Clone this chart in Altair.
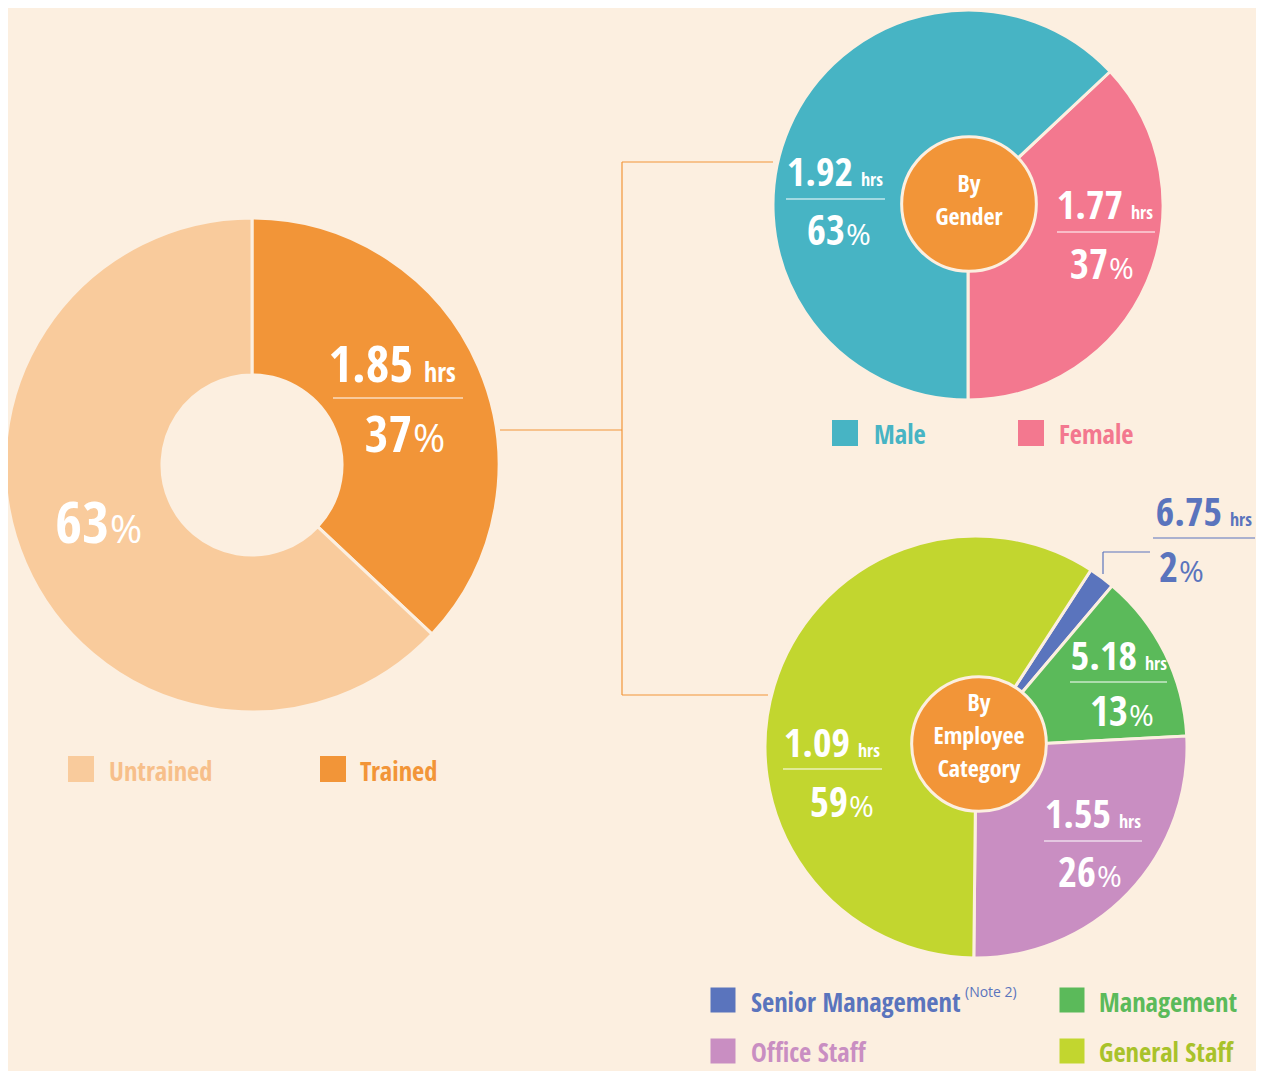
import math
import altair as alt
import pandas as pd

# ---------------- data ----------------
overall_cats = ["Trained", "Untrained"]
overall_pct = [37, 63]
overall_hours = [1.85, None]

gender_cats = ["Female", "Male"]
gender_pct = [37, 63]
gender_hours = [1.77, 1.92]

emp_cats = ["Senior Management", "Management", "Office Staff", "General Staff"]
emp_pct = [2, 13, 26, 59]
emp_hours = [6.75, 5.18, 1.55, 1.09]

gender_title = ["By", "Gender"]
emp_title = ["By", "Employee", "Category"]
note_text = "(Note 2)"
hrs_unit = "hrs"

# ---------------- styles ----------------
BG = "#fcefe0"
ORANGE = "#f29538"
FONT = "Open Sans Condensed, Roboto Condensed, DejaVu Sans Condensed, sans-serif"
FONT_REG = "Open Sans, Roboto, DejaVu Sans, sans-serif"
OFF = 8


def px(v):
    return v - OFF


slice_colors = {
    "Trained": ORANGE, "Untrained": "#f9cb9c",
    "Female": "#f3788f", "Male": "#47b4c4",
    "Senior Management": "#5a74bd", "Management": "#5bba5a",
    "Office Staff": "#c98ec2", "General Staff": "#c2d62f",
}
legend_text_colors = {
    "Trained": ORANGE, "Untrained": "#f7bf8a",
    "Female": "#f3788f", "Male": "#47b4c4",
    "Senior Management": "#5a74bd", "Management": "#5bba5a",
    "Office Staff": "#c98ec2", "General Staff": "#a9c22a",
}

# pie layout: center x, center y, outer r, inner r, start angle (deg)
pie_layout = {
    "overall": (252, 465, 247, 90, 0.0),
    "gender": (968, 205, 195, 0, 46.8),
    "emp": (976, 747, 211, 0, 33.0),
}

# label layout: number right edge, baseline1, pct right edge, baseline2, underline x1, x2, y, size class, color
label_layout = {
    "Trained": (413, 382, 412, 452, 333, 463, 398, "big", "white"),
    "Untrained": (None, None, 109, 543, None, None, None, "huge", "white"),
    "Male": (853, 186, 845, 245, 786, 885, 199, "small", "white"),
    "Female": (1123, 219, 1108, 279, 1057, 1155, 232, "small", "white"),
    "General Staff": (850, 757, 848, 817, 783, 882, 769, "small", "white"),
    "Office Staff": (1111, 828, 1096, 887, 1044, 1142, 841, "small", "white"),
    "Management": (1137, 670, 1128, 726, 1070, 1167, 682, "small", "white"),
    "Senior Management": (1222, 526, 1178, 582, 1153, 1255, 538, "small", "#5a74bd"),
}
size_classes = {
    "big": dict(num=51, hrs=26, pct=51, sign=39, gap=11),
    "small": dict(num=40, hrs=18, pct=41, sign=30, gap=8),
    "huge": dict(num=58, hrs=26, pct=58, sign=39, gap=11),
}

# legend layout: square centre x, centre y, side, text x, text baseline
legend_layout = {
    "Untrained": (81, 769, 26, 109, 781),
    "Trained": (333, 769, 26, 360, 781),
    "Male": (845, 433, 26, 874, 444),
    "Female": (1031, 433, 26, 1059, 444),
    "Senior Management": (723, 1000, 25, 751, 1012),
    "Management": (1072, 1000, 25, 1099, 1012),
    "Office Staff": (723, 1051, 25, 751, 1062),
    "General Staff": (1072, 1051, 25, 1099, 1062),
}
LEGEND_FS = 26.5
note_pos = (965, 997)

center_circles = [(969, 204, 76), (979, 744, 76)]
center_text_layout = {"gender": (969, 192, 33), "emp": (979, 711, 33)}
CENTER_FS = 24

connector_lines = [
    (500, 430, 622, 430, ORANGE), (622, 162, 622, 695, ORANGE),
    (622, 162, 773, 162, ORANGE), (622, 695, 768, 695, ORANGE),
    (1103, 574, 1103, 552, "#5a74bd"), (1103, 552, 1150, 552, "#5a74bd"),
]

X = lambda f: alt.X(f"{f}:Q", scale=None, axis=None)
Y = lambda f: alt.Y(f"{f}:Q", scale=None, axis=None)


def pie(key, cats, pct):
    cx, cy, ro, ri, start = pie_layout[key]
    df = pd.DataFrame({"cat": cats, "pct": pct, "k": list(range(len(cats))),
                       "color": [slice_colors[c] for c in cats]})
    s = math.radians(start)
    return alt.Chart(df).mark_arc(outerRadius=ro, innerRadius=ri, stroke=BG, strokeWidth=3).encode(
        theta=alt.Theta("pct:Q", stack=True, scale=alt.Scale(range=[s, s + 2 * math.pi])),
        order=alt.Order("k:Q", sort="ascending"),
        color=alt.Color("color:N", scale=None),
        x=alt.value(px(cx)), y=alt.value(px(cy)),
    )


# ---------------- text rows ----------------
right_bold, left_bold, left_norm, center_bold = [], [], [], []
underlines, connectors = [], []

all_series = list(zip(overall_cats, overall_pct, overall_hours)) + \
    list(zip(gender_cats, gender_pct, gender_hours)) + \
    list(zip(emp_cats, emp_pct, emp_hours))

for cat, p, h in all_series:
    nr, b1, pr, b2, lx1, lx2, ly, sc, col = label_layout[cat]
    sz = size_classes[sc]
    if h is not None:
        right_bold.append(dict(x=px(nr), y=px(b1), t=f"{h:.2f}", fs=sz["num"], c=col))
        left_bold.append(dict(x=px(nr + sz["gap"]), y=px(b1), t=hrs_unit, fs=sz["hrs"], c=col))
        underlines.append(dict(x=px(lx1), y=px(ly), x2=px(lx2), y2=px(ly), c=col))
    right_bold.append(dict(x=px(pr), y=px(b2), t=f"{p}", fs=sz["pct"], c=col))
    left_norm.append(dict(x=px(pr + 1), y=px(b2), t="%", fs=sz["sign"], c=col))

for cat, (sx, sy, side, tx, tb) in legend_layout.items():
    left_bold.append(dict(x=px(tx), y=px(tb), t=cat, fs=LEGEND_FS, c=legend_text_colors[cat]))
left_norm.append(dict(x=px(note_pos[0]), y=px(note_pos[1]), t=note_text, fs=14,
                      c=legend_text_colors["Senior Management"]))

for key, lines in (("gender", gender_title), ("emp", emp_title)):
    cx, b0, lh = center_text_layout[key]
    for i, line in enumerate(lines):
        center_bold.append(dict(x=px(cx), y=px(b0 + i * lh), t=line, fs=CENTER_FS, c="white"))

for x1, y1, x2, y2, c in connector_lines:
    connectors.append(dict(x=px(x1), y=px(y1), x2=px(x2), y2=px(y2), c=c))

squares = pd.DataFrame([dict(x=px(sx), y=px(sy), s=side * side, c=slice_colors[cat])
                        for cat, (sx, sy, side, tx, tb) in legend_layout.items()])
circles = pd.DataFrame([dict(x=px(cx), y=px(cy), s=math.pi * r * r) for cx, cy, r in center_circles])


def text_layer(rows, align, weight, font):
    return alt.Chart(pd.DataFrame(rows)).mark_text(
        align=align, baseline="alphabetic", font=font, fontWeight=weight
    ).encode(x=X("x"), y=Y("y"), text="t:N",
             size=alt.Size("fs:Q", scale=None), color=alt.Color("c:N", scale=None))


def rule_layer(rows, width):
    return alt.Chart(pd.DataFrame(rows)).mark_rule(strokeWidth=width).encode(
        x=X("x"), y=Y("y"), x2="x2:Q", y2="y2:Q", color=alt.Color("c:N", scale=None))


circle_layer = alt.Chart(circles).mark_circle(color=ORANGE, opacity=1, stroke=BG, strokeWidth=3).encode(
    x=X("x"), y=Y("y"), size=alt.Size("s:Q", scale=None))

square_layer = alt.Chart(squares).mark_square(opacity=1, filled=True).encode(
    x=X("x"), y=Y("y"), size=alt.Size("s:Q", scale=None), color=alt.Color("c:N", scale=None))

chart = alt.layer(
    rule_layer(connectors, 1.2),
    pie("overall", overall_cats, overall_pct),
    pie("gender", gender_cats, gender_pct),
    pie("emp", emp_cats, emp_pct),
    circle_layer,
    square_layer,
    rule_layer(underlines, 1.2),
    text_layer(right_bold, "right", "bold", FONT),
    text_layer(left_bold, "left", "bold", FONT),
    text_layer(left_norm, "left", "normal", FONT_REG),
    text_layer(center_bold, "center", "bold", FONT),
).resolve_scale(theta="independent").properties(
    width=1248, height=1063, padding=0,
    autosize=alt.AutoSizeParams(type="none"),
    background=BG,
).configure_view(stroke=None)

chart.save("out.html", embed_options={"renderer": "svg", "actions": False})
